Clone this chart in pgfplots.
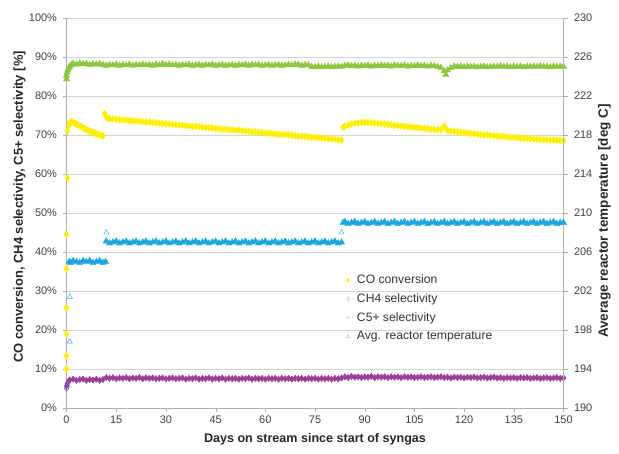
\documentclass[border=0pt]{standalone}
\usepackage{pgfplots}
\pgfplotsset{compat=1.18}
\usepackage{fontspec}
\setmainfont{Liberation Sans}
\definecolor{cogreen}{HTML}{8DC63F}
\definecolor{coyellow}{HTML}{FFEF00}
\definecolor{copurple}{HTML}{9B3E97}
\definecolor{coblue}{HTML}{1BA6E0}
\definecolor{axisgray}{HTML}{B0B0B0}
\definecolor{gridgray}{HTML}{D4D4D4}
\definecolor{ticktext}{HTML}{404040}
\pgfplotsset{
  base/.style={
    scale only axis, width=497bp, height=390bp,
    at={(66.5bp,46bp)}, anchor=south west,
    xmin=0, xmax=150, clip=false,
    /pgf/number format/assume math mode=true,
    tick label style={font=\fontsize{11}{13}\selectfont, text=ticktext},
    label style={font=\bfseries\fontsize{12.6}{14}\selectfont, text=black!85},
    axis line style={axisgray, -},
    major tick style={axisgray},
    tick align=outside, major tick length=4bp,
  },
  lgimg/.style={legend image code/.code={\draw[##1] plot coordinates {(3bp,0bp)};}},
}
\begin{document}
\begin{tikzpicture}[x=1bp,y=1bp]
\path[use as bounding box] (0,0) rectangle (619,454);
\begin{axis}[base,
  axis x line*=bottom, axis y line*=left,
  ymin=0, ymax=100, ytick={0,10,...,100},
  yticklabel={\pgfmathprintnumber{\tick}\%},
  yticklabel style={xshift=-2bp},
  xtick={0,15,...,150},
  ymajorgrids, grid style={gridgray, line width=0.6bp},
  xlabel={Days on stream since start of syngas},
  ylabel={CO conversion, CH4 selectivity, C5+ selectivity [\%]},
  xlabel style={at={(axis description cs:0.5,0)}, anchor=center, yshift=-31bp},
  ylabel style={at={(axis description cs:0,0.5)}, anchor=center, yshift=47bp, xshift=6bp,
    font=\bfseries\fontsize{13}{15}\selectfont},
  legend style={at={(axis description cs:0.563,0.344)}, anchor=north west,
    draw=none, fill=none, font=\fontsize{12.2}{14}\selectfont, text=black!80,
    row sep=6.5bp, inner sep=0bp, nodes={inner sep=1bp},
    /tikz/every odd column/.style={column sep=6bp}},
  legend cell align=left,
]
% CO conversion
\addplot[only marks, mark=diamond*, mark size=3.4bp, color=coyellow, forget plot] coordinates {
(0,10.0)(0,13.4)(0,19.0)(0,25.7)(0,35.7)(0,44.5)(0.3,59.0)(0.3,71.0)(0.7,72.5)(1,73.2)(1.5,73.4)(2,73.3)(2.5,73.0)(3,72.8)(3.5,72.6)(4,72.3)(4.5,72.1)(5,71.8)(5.5,71.6)(6,71.4)(6.5,71.2)(7,71.0)(7.5,70.8)(8,70.6)(8.5,70.5)(9,70.3)(9.5,70.2)(10,70.0)(10.5,69.9)(11,69.8)
(11.5,75.5)(12,74.6)(12.5,74.3)(13,74.2)(14,74.1)(15,74.0)(16,73.9)(17,73.9)(18,73.8)(19,73.7)(20,73.6)(21,73.6)(22,73.5)(23,73.4)(24,73.3)(25,73.3)(26,73.2)(27,73.1)(28,73.0)(29,72.9)(30,72.9)(31,72.8)(32,72.7)(33,72.6)(34,72.6)(35,72.5)(36,72.4)(37,72.3)(38,72.2)(39,72.2)(40,72.1)(41,72.0)(42,71.9)(43,71.9)(44,71.8)(45,71.7)(46,71.6)(47,71.5)(48,71.5)(49,71.4)(50,71.3)(51,71.2)(52,71.2)(53,71.1)(54,71.0)(55,70.9)(56,70.8)(57,70.8)(58,70.7)(59,70.6)(60,70.5)(61,70.5)(62,70.4)(63,70.3)(64,70.2)(65,70.1)(66,70.1)(67,70.0)(68,69.9)(69,69.8)(70,69.7)(71,69.7)(72,69.6)(73,69.5)(74,69.4)(75,69.4)(76,69.3)(77,69.2)(78,69.1)(79,69.0)(80,69.0)(81,68.9)(82,68.8)(83,68.7)
(83.5,72.0)(84,72.2)(85,72.5)(86,72.8)(87,73.0)(88,73.1)(89,73.2)(90,73.2)(91,73.2)(92,73.1)(93,73.0)(94,73.0)(95,72.9)(96,72.8)(97,72.7)(98,72.6)(99,72.5)(100,72.4)(101,72.3)(102,72.2)(103,72.1)(104,72.0)(105,71.9)(106,71.9)(107,71.8)(108,71.7)(109,71.6)(110,71.5)(111,71.4)(112,71.4)(113,71.3)(114,72.3)(114.5,71.6)(115,71.1)(116,71.0)(117,70.9)(118,70.8)(119,70.7)(120,70.6)(121,70.5)(122,70.4)(123,70.3)(124,70.2)(125,70.1)(126,70.0)(127,70.0)(128,69.9)(129,69.8)(130,69.7)(131,69.6)(132,69.6)(133,69.5)(134,69.4)(135,69.4)(136,69.3)(137,69.2)(138,69.2)(139,69.1)(140,69.0)(141,69.0)(142,68.9)(143,68.9)(144,68.8)(145,68.8)(146,68.7)(147,68.7)(148,68.6)(149,68.6)(150,68.5)
};
% CH4 selectivity
\addplot[only marks, mark=diamond*, mark size=3.2bp, color=copurple, forget plot] coordinates {
(0,5.6)(0.3,6.3)(0.6,6.9)(1,7.2)(2,7.4)(3,7.1)(4,7.3)(5,7.4)(6,7.1)(7,7.3)(8,7.2)(9,7.4)(10,7.1)(11,7.3)(12,7.8)(13,7.6)(14,7.8)(15,7.5)(16,7.7)(17,7.6)(18,7.8)(19,7.5)(20,7.7)(21,7.6)(22,7.8)(23,7.5)(24,7.7)(25,7.6)(26,7.7)(27,7.5)(28,7.6)(29,7.7)(30,7.5)(31,7.6)(32,7.7)(33,7.5)(34,7.6)(35,7.7)(36,7.4)(37,7.6)(38,7.5)(39,7.7)(40,7.4)(41,7.6)(42,7.5)(43,7.7)(44,7.4)(45,7.6)(46,7.5)(47,7.7)(48,7.4)(49,7.6)(50,7.5)(51,7.6)(52,7.4)(53,7.6)(54,7.5)(55,7.7)(56,7.4)(57,7.6)(58,7.5)(59,7.6)(60,7.4)(61,7.6)(62,7.5)(63,7.6)(64,7.4)(65,7.6)(66,7.5)(67,7.6)(68,7.4)(69,7.6)(70,7.5)(71,7.6)(72,7.4)(73,7.6)(74,7.5)(75,7.6)(76,7.4)(77,7.6)(78,7.5)(79,7.6)(80,7.4)(81,7.6)(82,7.5)(83,7.7)
(84,8.0)(85,7.8)(86,8.1)(87,7.9)(88,8.0)(89,7.8)(90,8.0)(91,7.9)(92,8.1)(93,7.8)(94,8.0)(95,7.9)(96,8.0)(97,7.8)(98,8.0)(99,7.9)(100,8.0)(101,7.8)(102,8.0)(103,7.9)(104,8.0)(105,7.8)(106,7.9)(107,8.0)(108,7.8)(109,7.9)(110,8.0)(111,7.8)(112,7.9)(113,8.0)(114,7.8)(115,7.9)(116,7.7)(117,7.9)(118,7.8)(119,7.9)(120,7.7)(121,7.9)(122,7.8)(123,7.9)(124,7.7)(125,7.8)(126,7.9)(127,7.7)(128,7.8)(129,7.9)(130,7.7)(131,7.8)(132,7.6)(133,7.8)(134,7.7)(135,7.8)(136,7.6)(137,7.8)(138,7.7)(139,7.8)(140,7.6)(141,7.7)(142,7.8)(143,7.6)(144,7.7)(145,7.8)(146,7.6)(147,7.7)(148,7.8)(149,7.6)(150,7.7)
};
\addplot[only marks, mark=diamond, mark size=3bp, color=copurple!80!blue, forget plot] coordinates {(0,5.0)};
% C5+ selectivity
\addplot[only marks, mark=triangle*, mark size=3.6bp, color=cogreen, forget plot] coordinates {
(0,84.3)(0,85.2)(0.2,86.0)(0.4,86.6)(0.7,87.2)(1,87.6)(1.5,88.0)(2,88.3)(3,88.1)(4,88.4)(5,88.2)(6,88.3)(7,88.0)(8,88.2)(9,88.1)(10,88.3)(11,88.0)(12,87.8)(13,88.0)(14,87.9)(15,88.1)(16,87.8)(17,88.0)(18,87.9)(19,88.1)(20,87.8)(21,88.0)(22,87.9)(23,88.1)(24,87.9)(25,88.0)(26,87.8)(27,88.1)(28,87.9)(29,88.2)(30,88.0)(31,88.1)(32,87.9)(33,88.0)(34,87.8)(35,88.0)(36,87.9)(37,88.1)(38,87.8)(39,87.9)(40,88.0)(41,87.8)(42,88.0)(43,87.9)(44,88.1)(45,87.8)(46,87.9)(47,88.0)(48,87.8)(49,87.9)(50,88.0)(51,87.8)(52,88.0)(53,87.9)(54,88.1)(55,87.8)(56,88.0)(57,87.9)(58,88.0)(59,87.8)(60,87.9)(61,88.0)(62,87.8)(63,87.9)(64,88.0)(65,87.8)(66,87.9)(67,88.0)(68,87.9)(69,88.1)(70,88.0)(71,87.8)(72,88.0)(73,87.9)(74,87.5)(75,87.4)(76,87.6)(77,87.4)(78,87.5)(79,87.6)(80,87.4)(81,87.5)(82,87.6)(83,87.5)
(84,87.8)(85,87.9)(86,87.7)(87,87.8)(88,87.6)(89,87.8)(90,87.7)(91,87.9)(92,87.6)(93,87.8)(94,87.7)(95,87.9)(96,87.7)(97,87.8)(98,87.6)(99,87.9)(100,87.8)(101,87.7)(102,87.9)(103,87.6)(104,87.8)(105,87.7)(106,87.9)(107,87.7)(108,87.8)(109,87.6)(110,87.8)(111,87.7)(112,87.5)(113,87.3)(114,86.4)(114.5,85.4)(115,86.6)(116,87.2)(117,87.6)(118,87.5)(119,87.6)(120,87.4)(121,87.6)(122,87.5)(123,87.6)(124,87.4)(125,87.5)(126,87.6)(127,87.4)(128,87.5)(129,87.6)(130,87.5)(131,87.7)(132,87.5)(133,87.6)(134,87.4)(135,87.6)(136,87.5)(137,87.6)(138,87.4)(139,87.6)(140,87.5)(141,87.6)(142,87.5)(143,87.7)(144,87.5)(145,87.6)(146,87.4)(147,87.6)(148,87.5)(149,87.6)(150,87.5)
};
\addlegendimage{only marks, mark=diamond*, mark size=2bp, color=coyellow, lgimg}
\addlegendentry{CO conversion}
\addlegendimage{only marks, mark=diamond, mark size=2bp, color=copurple!45, lgimg}
\addlegendentry{CH4 selectivity}
\addlegendimage{only marks, mark=triangle, mark size=2bp, color=cogreen!60, lgimg}
\addlegendentry{C5+ selectivity}
\addlegendimage{only marks, mark=triangle, mark size=2bp, color=coblue!60, lgimg}
\addlegendentry{Avg. reactor temperature}
\end{axis}
\begin{axis}[base,
  axis x line=none, axis y line*=right,
  ymin=190, ymax=230, ytick={190,194,...,230},
  yticklabel style={xshift=3bp},
  ylabel={Average reactor temperature [deg C]},
  ylabel style={at={(axis description cs:1,0.5)}, anchor=center, yshift=-41bp, xshift=-8bp,
    font=\bfseries\fontsize{13.5}{15}\selectfont},
]
\addplot[only marks, mark=triangle*, mark size=3.6bp, color=coblue] coordinates {
(0.8,205.0)(1.3,204.9)(2,205.1)(3,205.0)(4,204.9)(5,205.1)(6,205.0)(7,205.1)(8,204.9)(9,205.0)(10,205.1)(11,204.9)(11.8,205.0)
(12,207.1)(13,206.9)(14,207.0)(15,207.1)(16,206.9)(17,207.0)(18,207.1)(19,206.9)(20,207.0)(21,207.1)(22,206.9)(23,207.0)(24,207.1)(25,206.9)(26,207.0)(27,207.1)(28,206.9)(29,207.0)(30,207.1)(31,206.9)(32,207.0)(33,207.1)(34,206.9)(35,207.0)(36,207.1)(37,206.9)(38,207.0)(39,207.1)(40,206.9)(41,207.0)(42,207.1)(43,206.9)(44,207.0)(45,207.1)(46,206.9)(47,207.0)(48,207.1)(49,206.9)(50,207.0)(51,207.1)(52,206.9)(53,207.0)(54,207.1)(55,206.9)(56,207.0)(57,207.1)(58,206.9)(59,207.0)(60,207.1)(61,206.9)(62,207.0)(63,207.1)(64,206.9)(65,207.0)(66,207.1)(67,206.9)(68,207.0)(69,207.1)(70,206.9)(71,207.0)(72,207.1)(73,206.9)(74,207.0)(75,207.1)(76,206.9)(77,207.0)(78,207.1)(79,206.9)(80,207.0)(81,207.1)(82,206.9)(83,207.0)
(83.5,209.0)(84,209.1)(85,208.9)(86,209.0)(87,209.1)(88,208.9)(89,209.0)(90,209.1)(91,208.9)(92,209.0)(93,209.1)(94,208.9)(95,209.0)(96,209.1)(97,208.9)(98,209.0)(99,209.1)(100,208.9)(101,209.0)(102,209.1)(103,208.9)(104,209.0)(105,209.1)(106,208.9)(107,209.0)(108,209.1)(109,208.9)(110,209.0)(111,209.1)(112,208.9)(113,209.0)(114,209.1)(115,208.9)(116,209.0)(117,209.1)(118,208.9)(119,209.0)(120,209.1)(121,208.9)(122,209.0)(123,209.1)(124,208.9)(125,209.0)(126,209.1)(127,208.9)(128,209.0)(129,209.1)(130,208.9)(131,209.0)(132,209.1)(133,208.9)(134,209.0)(135,209.1)(136,208.9)(137,209.0)(138,209.1)(139,208.9)(140,209.0)(141,209.1)(142,208.9)(143,209.0)(144,209.1)(145,208.9)(146,209.0)(147,209.1)(148,208.9)(149,209.0)(150,209.0)
};
\addplot[only marks, mark=triangle, mark size=3bp, color=coblue] coordinates {
(0.4,192.3)(1,196.8)(1,201.4)(12,208.0)(83,208.0)
};
\end{axis}
\end{tikzpicture}
\end{document}
